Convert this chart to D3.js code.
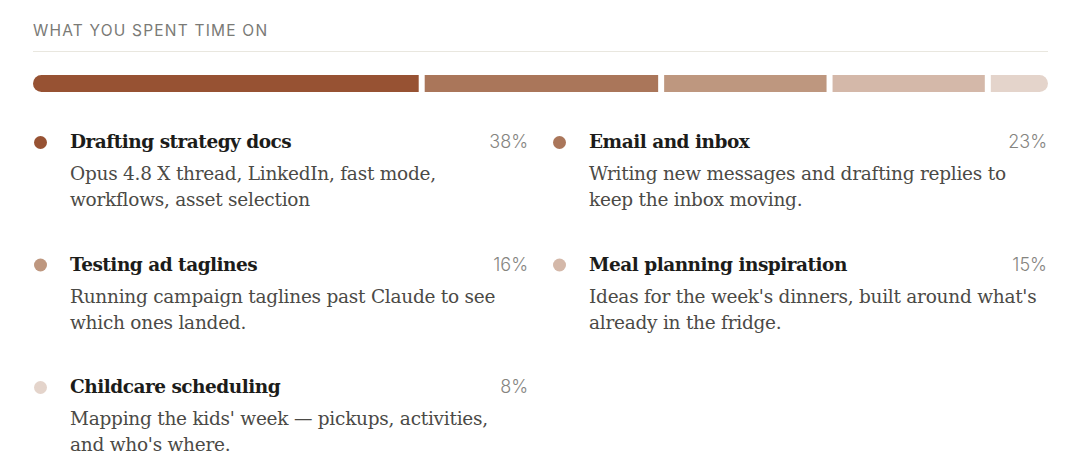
<!DOCTYPE html>
<html>
<head>
<meta charset="utf-8">
<script src="https://cdn.jsdelivr.net/npm/d3@7"></script>
<style>
  html, body { margin: 0; padding: 0; background: #fff; }
  svg { display: block; }
</style>
</head>
<body>
<svg id="chart" width="1080" height="469"></svg>
<script>
const heading = 'WHAT YOU SPENT TIME ON'

const categories = [
  'Drafting strategy docs',
  'Email and inbox',
  'Testing ad taglines',
  'Meal planning inspiration',
  'Childcare scheduling'
]

const shares = [38, 23, 16, 15, 8]

const descriptions = [
  ['Opus 4.8 X thread, LinkedIn, fast mode,', 'workflows, asset selection'],
  ['Writing new messages and drafting replies to', 'keep the inbox moving.'],
  ['Running campaign taglines past Claude to see', 'which ones landed.'],
  ['Ideas for the week\'s dinners, built around what\'s', 'already in the fridge.'],
  ['Mapping the kids\' week \u2014 pickups, activities,', 'and who\'s where.']
]

const palette = ['#975233', '#aa765a', '#be977f', '#d4b8a9', '#e4d4cb']

const left = 33
const right = 1048
const gap = 6
const barY = 75
const barH = 17

const serif = '"DejaVu Serif", serif'
const sans = 'Inter, "Open Sans", sans-serif'

const svg = d3.select('#chart')

// heading + rule
svg.append('text')
  .attr('x', left)
  .attr('y', 36)
  .attr('font-family', sans)
  .attr('font-size', 15.5)
  .attr('letter-spacing', 1.2)
  .attr('fill', '#7a7a76')
  .text(heading)

svg.append('line')
  .attr('x1', left).attr('x2', right)
  .attr('y1', 51.5).attr('y2', 51.5)
  .attr('stroke', '#e9e7df')
  .attr('stroke-width', 1)

// stacked bar; each slice is its share of the full width, gaps push the tail out and the clip trims it
const w = d3.scaleLinear().domain([0, 100]).range([0, right - left])
const color = d3.scaleOrdinal().domain(categories).range(palette)

let acc = left
const segs = shares.map((s, i) => {
  const x = acc
  acc += w(s) + gap
  return { name: categories[i], x, w: w(s) }
})

svg.append('clipPath').attr('id', 'barclip')
  .append('rect')
  .attr('x', left).attr('y', barY)
  .attr('width', right - left).attr('height', barH)
  .attr('rx', barH / 2)

svg.append('g')
  .attr('clip-path', 'url(#barclip)')
  .selectAll('rect')
  .data(segs)
  .join('rect')
  .attr('x', d => d.x)
  .attr('y', barY)
  .attr('width', d => d.w)
  .attr('height', barH)
  .attr('fill', d => color(d.name))

// legend grid
const colX = [left, 552]
const colW = 496
const rowY = d3.scaleLinear().domain([0, 1]).range([148, 270.5])

const items = svg.append('g')
  .selectAll('g')
  .data(categories.map((c, i) => ({ name: c, share: shares[i], lines: descriptions[i], i })))
  .join('g')
  .attr('transform', d => `translate(${colX[d.i % 2]},${rowY(Math.floor(d.i / 2))})`)

items.append('circle')
  .attr('cx', 7.5)
  .attr('cy', -5.5)
  .attr('r', 6.5)
  .attr('fill', d => color(d.name))

items.append('text')
  .attr('x', 37)
  .attr('y', 0)
  .attr('font-family', serif)
  .attr('font-weight', 700)
  .attr('font-size', 18.5)
  .attr('letter-spacing', -0.5)
  .attr('fill', '#1c1c1a')
  .text(d => d.name)

items.append('text')
  .attr('x', colW - 1)
  .attr('y', 0)
  .attr('text-anchor', 'end')
  .attr('font-family', sans)
  .attr('font-weight', 300)
  .attr('font-size', 18)
  .attr('fill', '#85847f')
  .text(d => d.share + '%')

items.append('text')
  .attr('font-family', serif)
  .attr('font-size', 18.5)
  .attr('letter-spacing', -0.25)
  .attr('fill', '#4b4a46')
  .selectAll('tspan')
  .data(d => d.lines)
  .join('tspan')
  .attr('x', 37)
  .attr('y', (d, j) => 32 + j * 26)
  .text(d => d)
</script>
</body>
</html>
